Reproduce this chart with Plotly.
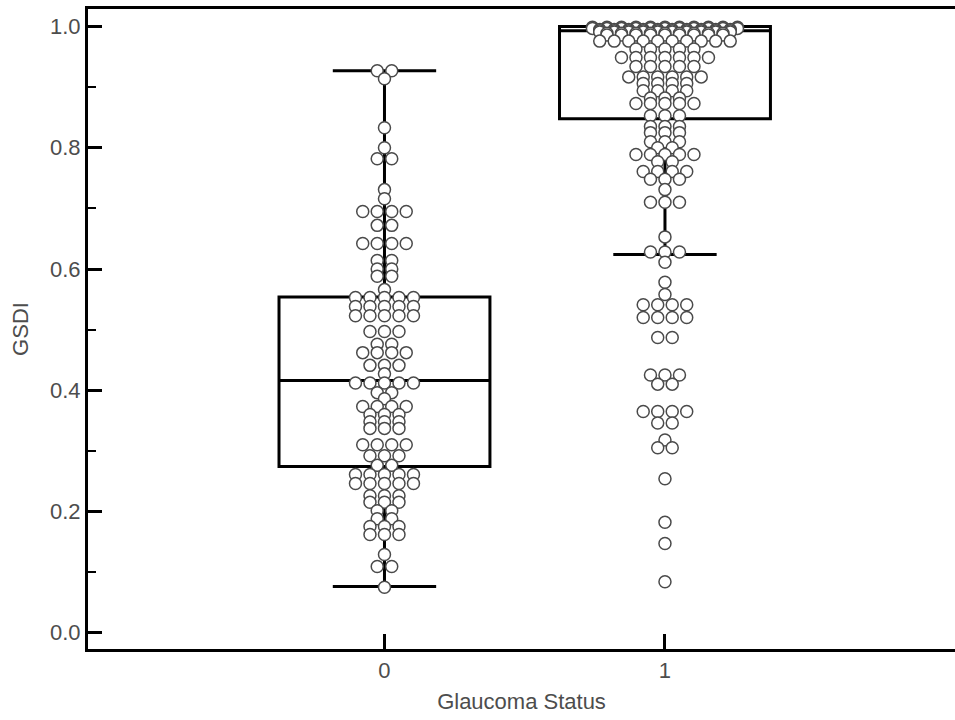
import plotly.graph_objects as go

# ---------------- data ----------------
categories = [0, 1]
category_labels = ["0", "1"]

gsdi_status0 = [
    0.927, 0.927, 0.914, 0.833, 0.800, 0.782, 0.782, 0.731, 0.716,
    0.695, 0.695, 0.695, 0.695, 0.672, 0.672,
    0.642, 0.642, 0.642, 0.642, 0.614, 0.614, 0.600, 0.600, 0.588, 0.588,
    0.566, 0.553, 0.553, 0.553, 0.553, 0.553,
    0.538, 0.538, 0.538, 0.538, 0.538,
    0.523, 0.523, 0.523, 0.523, 0.523,
    0.497, 0.497, 0.497, 0.476, 0.476, 0.462, 0.462, 0.462, 0.462,
    0.441, 0.441, 0.441, 0.427,
    0.412, 0.412, 0.412, 0.412, 0.412, 0.396, 0.396, 0.386,
    0.373, 0.373, 0.373, 0.373, 0.360, 0.360, 0.360,
    0.348, 0.348, 0.348, 0.337, 0.337, 0.337,
    0.310, 0.310, 0.310, 0.310, 0.292, 0.292, 0.292, 0.276, 0.276,
    0.261, 0.261, 0.261, 0.261, 0.261,
    0.246, 0.246, 0.246, 0.246, 0.246,
    0.226, 0.226, 0.226, 0.215, 0.215, 0.215, 0.201, 0.201,
    0.188, 0.188, 0.175, 0.175, 0.175, 0.162, 0.162, 0.162,
    0.129, 0.109, 0.109, 0.075,
]

gsdi_status1 = [
    0.999, 0.999, 0.999, 0.999, 0.999, 0.999, 0.999, 0.999, 0.999, 0.999, 0.999,
    0.997, 0.997, 0.997, 0.997, 0.997, 0.997, 0.997, 0.997, 0.997, 0.997, 0.997,
    0.995, 0.995, 0.995, 0.995, 0.995, 0.995, 0.995, 0.995, 0.995, 0.995,
    0.993, 0.993, 0.993, 0.993, 0.993, 0.993, 0.993, 0.993, 0.993, 0.993,
    0.991, 0.991, 0.991, 0.991, 0.991, 0.991, 0.991, 0.991, 0.991, 0.991,
    0.989, 0.989, 0.989, 0.989, 0.989, 0.989, 0.989, 0.989, 0.989,
    0.986, 0.986, 0.986, 0.986, 0.986, 0.986, 0.986, 0.986, 0.986,
    0.976, 0.976, 0.976, 0.976, 0.976, 0.976, 0.976, 0.976, 0.976, 0.976,
    0.963, 0.963, 0.963, 0.963, 0.963,
    0.949, 0.949, 0.949, 0.949, 0.949, 0.949, 0.949,
    0.934, 0.934, 0.934, 0.934, 0.934,
    0.917, 0.917, 0.917, 0.917, 0.917, 0.917,
    0.906, 0.906, 0.906, 0.906, 0.894, 0.894, 0.894, 0.894,
    0.882, 0.882, 0.882, 0.873, 0.873, 0.873, 0.873, 0.873,
    0.853, 0.853, 0.853, 0.835, 0.835, 0.835, 0.825, 0.825, 0.825,
    0.810, 0.810, 0.810, 0.800, 0.800,
    0.789, 0.789, 0.789, 0.789, 0.789, 0.777, 0.777,
    0.761, 0.761, 0.761, 0.761, 0.748, 0.748, 0.748,
    0.731, 0.710, 0.710, 0.710, 0.653, 0.628, 0.628, 0.628, 0.611,
    0.578, 0.558, 0.541, 0.541, 0.541, 0.541, 0.520, 0.520, 0.520, 0.520,
    0.487, 0.487, 0.425, 0.425, 0.425, 0.410, 0.410,
    0.365, 0.365, 0.365, 0.365, 0.346, 0.346, 0.318, 0.305, 0.305,
    0.254, 0.182, 0.147, 0.084,
]

# box statistics as drawn in the reference (whiskers, quartiles, median)
box_lower = [0.076, 0.624]
box_q1 = [0.274, 0.848]
box_median = [0.416, 0.993]
box_q3 = [0.554, 1.000]
box_upper = [0.927, 1.000]

y_ticks = [0.0, 0.2, 0.4, 0.6, 0.8, 1.0]

# ---------------- swarm layout (rows of equal values, centred) ----------------
DX = 0.0517  # horizontal spacing between neighbouring markers (data units)


def swarm_offsets(values):
    rows = {}
    for i, v in enumerate(values):
        rows.setdefault(v, []).append(i)
    offs = [0.0] * len(values)
    for v, idx in rows.items():
        n = len(idx)
        for k, i in enumerate(idx):
            offs[i] = (k - (n - 1) / 2.0) * DX
    return offs


fig = go.Figure()

# boxes
for c, q1, med, q3, lo, hi in zip(categories, box_q1, box_median, box_q3, box_lower, box_upper):
    fig.add_trace(go.Box(
        x=[c], q1=[q1], median=[med], q3=[q3], lowerfence=[lo], upperfence=[hi],
        width=0.752, whiskerwidth=0.49, boxpoints=False,
        line=dict(color="black", width=3), fillcolor="rgba(0,0,0,0)",
        showlegend=False, hoverinfo="skip",
    ))

# points (drawn from high to low values, so lower rows overlap upper ones)
for c, vals in zip(categories, [gsdi_status0, gsdi_status1]):
    sv = sorted(vals, reverse=True)
    offs = swarm_offsets(sv)
    fig.add_trace(go.Scatter(
        x=[c + o for o in offs], y=sv, mode="markers",
        marker=dict(size=12, color="white", line=dict(color="#4a4a4a", width=1.5)),
        showlegend=False, hoverinfo="skip",
    ))

font_family = "Liberation Sans, Arial, sans-serif"
TXT = "#4d4d4d"
FS = 22
fig.update_layout(
    width=955, height=720,
    margin=dict(l=88, r=0, t=9, b=71),
    paper_bgcolor="white", plot_bgcolor="white",
    font=dict(family=font_family, size=FS, color=TXT),
    showlegend=False,
)
fig.update_xaxes(
    range=[-1.057, 2.034], tickvals=categories, ticktext=category_labels,
    showline=True, linecolor="black", linewidth=3, mirror=True,
    ticks="inside", ticklen=15, tickwidth=2.5, tickcolor="black",
    showgrid=False, zeroline=False,
    tickfont=dict(size=FS, color=TXT),
    title=dict(text="Glaucoma Status", font=dict(size=FS, color=TXT), standoff=12),
)
fig.update_yaxes(
    range=[-0.027, 1.029], tickvals=y_ticks, tickformat=".1f",
    showline=True, linecolor="black", linewidth=3, mirror=False,
    ticks="inside", ticklen=14, tickwidth=2.5, tickcolor="black",
    minor=dict(ticks="inside", ticklen=8, tickwidth=2, tickcolor="black", dtick=0.1, tick0=0, showgrid=False),
    showgrid=False, zeroline=False,
    tickfont=dict(size=FS, color=TXT),
    title=dict(text="GSDI", font=dict(size=FS, color=TXT), standoff=16),
)

fig.write_html(
    "out.html",
    config={"displayModeBar": False},
    post_script="document.documentElement.style.margin='0';document.body.style.margin='0';"
                "document.body.style.overflow='hidden';",
)
